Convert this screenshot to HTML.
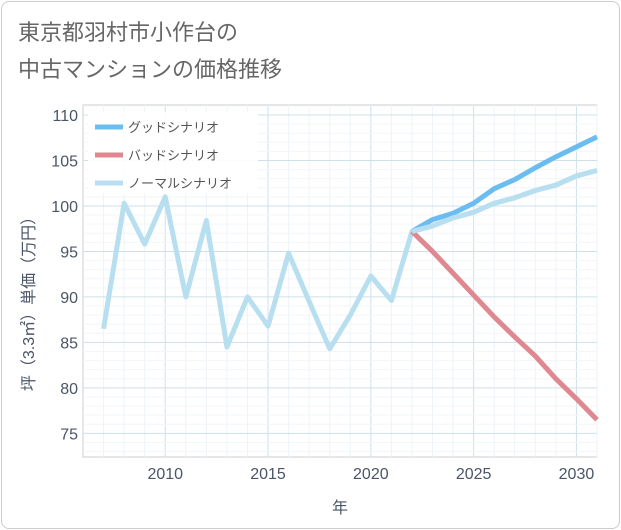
<!DOCTYPE html>
<html><head><meta charset="utf-8"><style>
body{margin:0;background:#fff;font-family:"Liberation Sans","Noto Sans CJK JP",sans-serif;}
#card{position:absolute;left:1px;top:1px;width:617px;height:526px;border:1px solid #ccc;border-radius:8px;background:#fff;}
</style></head><body>
<div id="card"></div>
<svg id="chart" width="621" height="530" style="position:absolute;left:0;top:0">
<text x="18" y="40" font-size="22" fill="#666">東京都羽村市小作台の</text>
<text x="18" y="77" font-size="22" fill="#666">中古マンションの価格推移</text>
</svg>
<script>
const years=[2007,2008,2009,2010,2011,2012,2013,2014,2015,2016,2017,2018,2019,2020,2021,2022,2023,2024,2025,2026,2027,2028,2029,2030,2031];
const normal=[86.5,100.3,95.8,101,90,98.4,84.5,90,86.8,94.8,89.5,84.3,88,92.3,89.6,97.2,97.8,98.7,99.3,100.3,100.9,101.7,102.3,103.3,103.9];
const futureYears=[2022,2023,2024,2025,2026,2027,2028,2029,2030,2031];
const good=[97.2,98.5,99.2,100.3,101.9,102.9,104.2,105.4,106.5,107.6];
const bad=[97.2,95,92.6,90.2,87.8,85.6,83.5,81,78.8,76.5];
const xTicks=[2010,2015,2020,2025,2030];
const yTicks=[75,80,85,90,95,100,105,110];
const L=83,R=597,T=105,B=457,x0=2006,x1=2031,y0=72.4,y1=111.1;
const X=v=>L+(v-x0)/(x1-x0)*(R-L), Y=v=>B-(v-y0)/(y1-y0)*(B-T);
const svg=document.getElementById('chart'),NS='http://www.w3.org/2000/svg';
function mk(t,a,p){const e=document.createElementNS(NS,t);for(const k in a)e.setAttribute(k,a[k]);(p||svg).appendChild(e);return e;}
const bg=mk('rect',{x:L,y:T,width:R-L,height:B-T,fill:'#fff',stroke:'#ccc'});

for(let y=2007;y<=2031;y++){const g=mk('line',{x1:X(y),x2:X(y),y1:T,y2:B,stroke:y%5==0?'#cfe0ea':'#edf3f7'});
}
for(let v=73;v<=111;v++){const g=mk('line',{x1:L,x2:R,y1:Y(v),y2:Y(v),stroke:v%5==0?'#cfe0ea':'#f2f6f9'});
}
xTicks.forEach(t=>{const e=mk('text',{x:X(t),y:479,'text-anchor':'middle','font-size':16,fill:'#4a5568'});e.textContent=t;
});
yTicks.forEach(t=>{const e=mk('text',{x:L-5,y:Y(t)+6,'text-anchor':'end','font-size':16,fill:'#4a5568'});e.textContent=t;
});
const xt=mk('text',{x:340,y:513,'text-anchor':'middle','font-size':16,fill:'#4a5568'});xt.textContent='年';

const yt=mk('text',{x:0,y:0,'text-anchor':'middle','font-size':16,fill:'#4a5568',transform:'translate(34,300) rotate(-90)'});yt.textContent='坪（3.3㎡）単価（万円）';

function line(xs,vs,c,n){const p=mk('polyline',{points:xs.map((x,i)=>X(x)+','+Y(vs[i])).join(' '),fill:'none',stroke:c,'stroke-width':5,'stroke-linejoin':'round'});
}
line(years,normal,'#b8dff0','normal-series');
line(futureYears,bad,'#e08890','bad-series');
line(futureYears,good,'#6bbcf0','good-series');
line(futureYears,normal.slice(15),'#b8dff0','normal-forecast');
const lg=mk('rect',{x:88,y:112,width:170,height:82,fill:'#fff','fill-opacity':0.9});

[['グッドシナリオ','#6bbcf0'],['バッドシナリオ','#e08890'],['ノーマルシナリオ','#b8dff0']].forEach((d,i)=>{
const yy=127+i*28;const s=mk('line',{x1:95,x2:123,y1:yy,y2:yy,stroke:d[1],'stroke-width':5});

const t=mk('text',{x:128,y:yy+5,'font-size':13,fill:'#555'});t.textContent=d[0];
});
</script>
</body></html>
